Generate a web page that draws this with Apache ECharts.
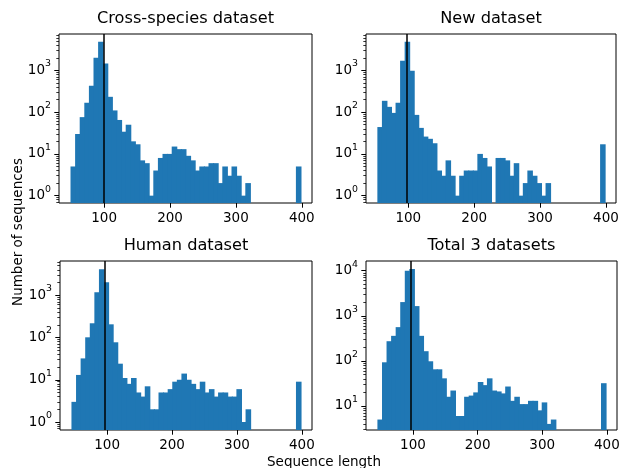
<!DOCTYPE html>
<html>
<head>
<meta charset="utf-8">
<script src="https://cdn.jsdelivr.net/npm/echarts@6/dist/echarts.min.js"></script>
<style>
  html, body { margin: 0; padding: 0; background: #fff; }
  #chart { width: 621px; height: 468px; }
</style>
</head>
<body>
<div id="chart"></div>
<script>
// four histograms of sequence length, 50 bins each, log counts
const panelTitles = ['Cross-species dataset', 'New dataset', 'Human dataset', 'Total 3 datasets'];

const crossCounts = [5, 30, 76, 168, 429, 2014, 4875, 1472, 233, 110,
  65, 34, 50, 20, 17, 7, 6, 1, 4, 8,
  10, 10, 15, 13, 13, 9, 7, 4, 5, 5,
  6, 6, 2, 5, 3, 5, 3, 1, 2, 0,
  0, 0, 0, 0, 0, 0, 0, 0, 0, 5];
const newCounts = [44, 187, 134, 96, 168, 1706, 4875, 982, 86, 42,
  26, 23, 18, 4, 3, 7, 3, 1, 3, 4,
  4, 4, 10, 8, 5, 0, 8, 8, 7, 3,
  6, 1, 2, 4, 3, 2, 1, 2, 0, 0,
  0, 0, 0, 0, 0, 0, 0, 0, 0, 17];
const humanCounts = [3, 13, 32, 101, 217, 1175, 4120, 2028, 205, 77,
  24, 11, 8, 11, 5, 4, 7, 2, 2, 5,
  5, 6, 9, 10, 14, 10, 8, 6, 9, 5,
  6, 4, 5, 5, 4, 4, 6, 1, 2, 0,
  0, 0, 0, 0, 0, 0, 0, 0, 0, 9];
const totalCounts = [5, 93, 273, 359, 560, 2014, 10000, 10900, 1640, 359,
  164, 98, 65, 65, 41, 16, 22, 6, 6, 16,
  17, 20, 34, 29, 41, 22, 21, 19, 27, 13,
  16, 11, 11, 13, 13, 8, 12, 4, 5, 0,
  0, 0, 0, 0, 0, 0, 0, 0, 0, 32];

// [min length, max length] of each dataset (histogram range)
const binRanges = [[49, 398], [53, 398], [45, 398], [45, 398]];
// vertical reference line
const meanLengths = [98.8, 96.9, 95.6, 96.0];
// y limits as log10 of count
const yLogLimits = [[-0.176, 3.872], [-0.176, 3.872], [-0.189, 3.81], [0.467, 4.215]];
const xTickValues = [100, 200, 300, 400];

const allCounts = [crossCounts, newCounts, humanCounts, totalCounts];

// layout (px)
const grids = [
  { left: 59, top: 34, width: 253, height: 169 },
  { left: 366, top: 34, width: 250, height: 169 },
  { left: 60, top: 261, width: 252, height: 169 },
  { left: 366, top: 261, width: 251, height: 169 }
];
const FONT = 'DejaVu Sans';
const BLUE = '#1f77b4';
const TICK_FS = 13.5;

function renderBin(params, api) {
  const v = api.value(2);
  if (!v) return;
  const p0 = api.coord([api.value(0), v]);
  const p1 = api.coord([api.value(1), v]);
  const cs = params.coordSys;
  const bottom = cs.y + cs.height;
  // small overlap so neighbouring bins join without seams
  return {
    type: 'rect',
    shape: { x: p0[0], y: p0[1], width: p1[0] - p0[0] + 1, height: bottom - p0[1] },
    style: { fill: BLUE }
  };
}

const xAxes = [], yAxes = [], series = [], texts = [];

allCounts.forEach((counts, i) => {
  const [a, b] = binRanges[i];
  const w = (b - a) / counts.length;
  const pad = (b - a) * 0.05;
  const lo = yLogLimits[i][0], hi = yLogLimits[i][1];

  const majors = [], minors = [];
  for (let k = Math.floor(lo); k <= Math.ceil(hi); k++) {
    if (k >= lo && k <= hi) majors.push(Math.pow(10, k));
    for (let m = 2; m <= 9; m++) {
      const val = m * Math.pow(10, k);
      const l = Math.log10(val);
      if (l >= lo && l <= hi) minors.push(val);
    }
  }

  xAxes.push({
    type: 'value', gridIndex: i, min: a - pad, max: b + pad,
    axisLine: { show: false },
    splitLine: { show: false },
    axisTick: { customValues: xTickValues, length: 4.7, lineStyle: { color: '#000', width: 1 } },
    axisLabel: { customValues: xTickValues, color: '#000', fontFamily: FONT, fontSize: TICK_FS, margin: 8 }
  });

  const yBase = {
    type: 'log', logBase: 10, gridIndex: i, position: 'left', offset: 0,
    min: Math.pow(10, lo), max: Math.pow(10, hi),
    axisLine: { show: false },
    splitLine: { show: false }
  };
  yAxes.push(Object.assign({}, yBase, {
    axisTick: { customValues: majors, length: 4.7, lineStyle: { color: '#000', width: 1 } },
    axisLabel: {
      customValues: majors, margin: 8,
      formatter: v => '{b|10}{s|' + Math.round(Math.log10(v)) + '}',
      rich: {
        b: { fontFamily: FONT, fontSize: TICK_FS, color: '#000', lineHeight: 22 },
        s: { fontFamily: FONT, fontSize: 9.4, color: '#000', lineHeight: 12, verticalAlign: 'top' }
      }
    }
  }));
  yAxes.push(Object.assign({}, yBase, {
    axisTick: { customValues: minors, length: 2.7, lineStyle: { color: '#000', width: 0.8 } },
    axisLabel: { show: false }
  }));

  const data = counts.map((c, j) => [a + j * w, a + (j + 1) * w, c]).filter(d => d[2] > 0);

  series.push({
    type: 'custom',
    xAxisIndex: i,
    yAxisIndex: 2 * i,
    renderItem: renderBin,
    clip: true,
    encode: { x: [0, 1], y: 2 },
    data: data,
    markLine: {
      silent: true,
      symbol: 'none',
      label: { show: false },
      lineStyle: { color: '#000', width: 1.5, type: 'solid' },
      data: [{ xAxis: meanLengths[i] }]
    }
  });

  const g = grids[i];
  texts.push({
    type: 'text',
    x: g.left + g.width / 2, y: g.top - 15,
    style: { text: panelTitles[i], font: '16.2px "' + FONT + '"', fill: '#000', textAlign: 'center', textVerticalAlign: 'middle' }
  });
});

texts.push({
  type: 'text', x: 18, y: 232, rotation: Math.PI / 2,
  style: { text: 'Number of sequences', font: TICK_FS + 'px "' + FONT + '"', fill: '#000', textAlign: 'center', textVerticalAlign: 'middle' }
});
texts.push({
  type: 'text', x: 324, y: 462,
  style: { text: 'Sequence length', font: TICK_FS + 'px "' + FONT + '"', fill: '#000', textAlign: 'center', textVerticalAlign: 'middle' }
});

const chart = echarts.init(document.getElementById('chart'), null, { renderer: 'canvas' });
chart.setOption({
  animation: false,
  backgroundColor: '#fff',
  grid: grids.map(g => Object.assign({ show: true, borderColor: '#000', borderWidth: 1, backgroundColor: 'transparent', outerBoundsMode: 'none' }, g)),
  xAxis: xAxes,
  yAxis: yAxes,
  series: series,
  graphic: texts
});
</script>
</body>
</html>
